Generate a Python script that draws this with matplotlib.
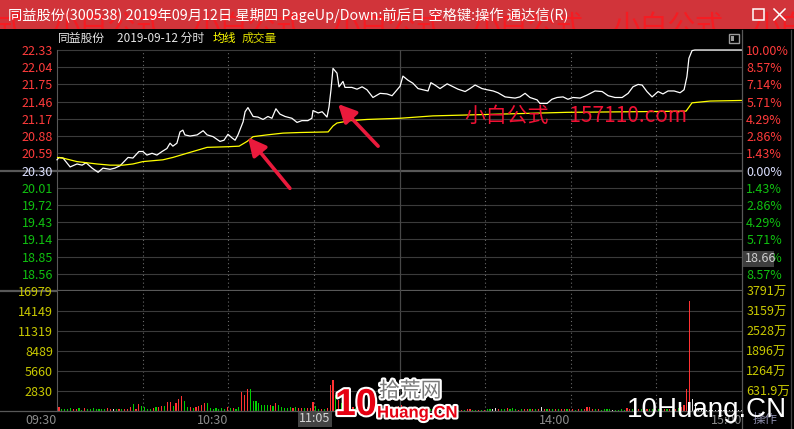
import matplotlib
matplotlib.use('Agg')
import matplotlib.pyplot as plt
from matplotlib.patches import Rectangle
import matplotlib.patheffects as pe
import numpy as np

plt.rcParams['font.family'] = ['Noto Sans CJK SC', 'DejaVu Sans']

# ---------------- data ----------------
title_text = "同益股份(300538) 2019年09月12日 星期四 PageUp/Down:前后日 空格键:操作 通达信(R)"
title_watermark = "小白公式"
title_watermark_x = [-87, 52, 192, 332, 472, 612, 752]
stock_name = "同益股份"
header_date = "2019-09-12 分时"
legend_avg = "均线"
legend_vol = "成交量"
watermark_text = "小白公式\u3000157110.com"
logo_big = "10"
logo_cn = "拾荒网"
logo_en = "Huang.CN"
site_text = "10Huang.CN"
op_text = "操作"

prev_close = 20.30
price_ticks = [22.33, 22.04, 21.75, 21.46, 21.17, 20.88, 20.59, 20.30,
               20.01, 19.72, 19.43, 19.14, 18.85, 18.56]
price_tick_labels = ["22.33", "22.04", "21.75", "21.46", "21.17", "20.88", "20.59", "20.30",
                     "20.01", "19.72", "19.43", "19.14", "18.85", "18.56"]
pct_tick_labels = ["10.00%", "8.57%", "7.14%", "5.71%", "4.29%", "2.86%", "1.43%", "0.00%",
                   "1.43%", "2.86%", "4.29%", "5.71%", "7.14%", "8.57%"]
vol_ticks = [2830, 5660, 8489, 11319, 14149, 16979]
vol_tick_labels = ["2830", "5660", "8489", "11319", "14149", "16979"]
amount_tick_labels = ["631.9万", "1264万", "1896万", "2528万", "3159万", "3791万"]
time_ticks = [0, 60, 180, 240]
time_labels = ["09:30", "10:30", "14:00", "15:00"]
cursor_time_label = "11:05"
cursor_price_label = "18.66"

# minute index (0 = 09:30, 120 = 11:30/13:00, 240 = 15:00) and price
price_min = [0, 0.7, 2.1, 4.6, 7.0, 8.8, 10.2, 12.3, 14.4, 16.1, 18.6, 20.3, 22.1, 24.9, 26.6,
             28.7, 30.1, 31.5, 33.3, 35.0, 36.8, 38.5, 39.6, 40.6, 42.0, 43.1, 44.1, 44.8, 46.6,
             49.1, 51.2, 52.6, 54.7, 57.1, 58.5, 59.9, 61.3, 62.4, 63.4, 65.2, 65.9, 66.9, 68.7,
             70.4, 72.2, 73.9, 75.3, 76.7, 78.1, 79.9, 82.3, 84.1, 85.8, 87.9, 89.3, 89.7, 91.5,
             92.9, 94.6, 95.3, 96.0, 96.7, 98.1, 98.8, 100.2, 100.9, 103.3, 105.1, 106.9, 108.6,
             110.7, 113.2, 115.6, 117.4, 120.2, 121.2, 123.0, 124.7, 126.5, 128.2, 130.0, 131.0,
             132.4, 134.2, 136.7, 138.8, 140.5, 143.0, 144.7, 146.5, 148.9, 150.7, 152.8, 154.5,
             157.0, 158.7, 160.5, 162.2, 164.0, 165.7, 168.2, 169.2, 171.7, 173.4, 175.2, 177.3,
             179.0, 180.8, 183.3, 185.7, 188.5, 191.0, 193.1, 195.5, 198.0, 200.1, 201.8, 203.6,
             205.0, 206.7, 208.5, 210.6, 212.3, 214.1, 216.2, 218.3, 219.7, 220.7, 221.4, 222.5,
             223.5, 240]
price_val = [20.48, 20.52, 20.51, 20.36, 20.41, 20.39, 20.43, 20.34, 20.27, 20.34, 20.32, 20.34,
             20.38, 20.52, 20.51, 20.62, 20.62, 20.56, 20.59, 20.56, 20.62, 20.67, 20.76, 20.71,
             20.76, 20.95, 20.98, 20.90, 20.88, 20.90, 20.97, 20.90, 20.87, 20.79, 20.81, 20.91,
             20.85, 20.81, 20.90, 21.12, 21.29, 21.36, 21.21, 21.20, 21.16, 21.21, 21.18, 21.34,
             21.25, 21.21, 21.18, 21.11, 21.14, 21.14, 21.18, 21.31, 21.27, 21.29, 21.20, 21.37,
             21.66, 22.02, 21.94, 21.71, 21.80, 21.70, 21.70, 21.67, 21.71, 21.66, 21.53, 21.60,
             21.59, 21.56, 21.72, 21.89, 21.82, 21.77, 21.68, 21.66, 21.64, 21.78, 21.74, 21.68,
             21.76, 21.71, 21.67, 21.63, 21.68, 21.74, 21.68, 21.66, 21.64, 21.61, 21.54, 21.53,
             21.52, 21.54, 21.60, 21.53, 21.49, 21.43, 21.43, 21.50, 21.53, 21.54, 21.50, 21.53,
             21.52, 21.57, 21.64, 21.63, 21.56, 21.53, 21.53, 21.60, 21.71, 21.75, 21.74, 21.63,
             21.54, 21.63, 21.59, 21.64, 21.64, 21.61, 21.66, 21.88, 22.19, 22.32, 22.33, 22.33]

avg_min = [0, 2, 7, 10.5, 14, 18.6, 23.1, 26.6, 30.1, 37.1, 40.6, 45.5, 52.6, 59.6, 63.8, 66.6,
           68.7, 73.6, 79.2, 85.1, 95.0, 96.7, 98.1, 102.7, 108.6, 120.2, 131.7, 155.2, 178.7,
           201.8, 220.4, 222.5, 228.8, 240]
avg_val = [20.52, 20.51, 20.45, 20.43, 20.41, 20.39, 20.39, 20.41, 20.45, 20.48, 20.52, 20.59,
           20.69, 20.70, 20.71, 20.79, 20.87, 20.90, 20.93, 20.94, 20.95, 21.05, 21.10, 21.14,
           21.16, 21.18, 21.22, 21.25, 21.28, 21.29, 21.30, 21.44, 21.47, 21.48]

# per-minute volume (lots) and direction (r = up, g = down, w = unchanged)
volume = [610, 330, 280, 280, 380, 280, 280, 380, 140, 380,
          280, 280, 380, 280, 280, 280, 280, 380, 280, 280,
          280, 280, 240, 280, 280, 520, 940, 280, 940, 710,
          570, 280, 240, 420, 520, 610, 710, 710, 1230, 1230,
          710, 1090, 1700, 2120, 1370, 570, 520, 420, 570, 750,
          900, 1080, 1080, 420, 330, 380, 330, 380, 330, 570,
          380, 420, 330, 520, 2640, 2260, 3110, 3110, 1370, 1370,
          1130, 850, 800, 800, 800, 660, 1130, 800, 570, 420,
          420, 610, 420, 610, 420, 420, 420, 420, 420, 1230,
          660, 330, 280, 330, 420, 3630, 4380, 2260,
          1500, 1200, 900, 800, 600, 500, 450, 400, 450, 600, 500,
          700, 600, 450, 400, 380, 350, 420, 380, 350, 500, 700,
          900, 600, 450, 400, 420, 350, 300, 380, 300, 350, 330, 300, 280, 300, 280, 300, 250, 250,
          140, 140, 140, 140, 190, 280, 240, 190, 140,
          140, 190, 140, 330, 240, 240, 420, 240, 240, 280,
          380, 280, 420, 280, 140, 240, 240, 240, 280,
          240, 280, 240, 520, 240, 240, 280, 240, 330, 240,
          240, 280, 240, 240, 240, 190, 240, 240, 330,
          570, 520, 330, 240, 240, 190, 240, 240, 240, 140,
          190, 190, 240, 190, 380,
          300, 350, 280, 300, 250, 300, 350, 300, 250, 300,
          280, 250, 300, 280, 250, 300, 350, 400, 500, 900,
          3110, 15570, 1650, 1200, 300, 250, 200, 200, 150, 150,
          150, 120, 120, 100, 100, 100, 100, 100, 100, 150]
volume_dir = ("rggggrrggr" "gggggggrrw" "grgrrrgrrg" "gggrgrrgrr" "grrrggrgrr"
              "rrgggggggr" "grggrrrggg" "ggggrgrggg" "ggrgrrgrrr" "ggrgrrrg"
              "rgrggrgrggrgrggrgrgrrr"
              "rggggrgrgrggrggrgg"
              "gggrgrrgg" "rgrggwwrgg" "rgggrgrrg" "rgrwrgrgrg" "rrgrrgrgr" "rrrgrggggw" "ggggr"
              "rggrggrggrggrgrgrgrr"
              "rrwwwwwwwwwwwwwwwwww")

# arrows (minute, price): head then tail
arrow_heads = [(66.9, 20.86), (98.5, 21.42)]
arrow_tails = [(81.6, 20.00), (112.5, 20.71)]

# ---------------- figure ----------------
W, H = 794, 429
fig = plt.figure(figsize=(W / 100, H / 100), dpi=100)
fig.patch.set_facecolor('black')

L, R = 57, 742
TOP, MID, BOT = 50, 291, 411
BAR_H = 29

ax = fig.add_axes([L / W, 1 - MID / H, (R - L) / W, (MID - TOP) / H])
axv = fig.add_axes([L / W, 1 - BOT / H, (R - L) / W, (BOT - MID) / H])

grid_c = '#3b3b3b'
sep_c = '#585858'
up_c, dn_c, flat_c = '#ff3b3b', '#10c010', '#dce0ff'
vol_lab_c = '#c8c800'

for a in (ax, axv):
    a.set_facecolor('black')
    a.set_xlim(0, 240)
    for s in ('top', 'right', 'bottom'):
        a.spines[s].set_visible(False)
    a.spines['left'].set_color(sep_c)
    a.spines['left'].set_linewidth(0.8)

ybot = 2 * prev_close - price_ticks[0]
ax.set_ylim(ybot, price_ticks[0])

# horizontal grid
for v in price_ticks:
    if v != prev_close:
        ax.axhline(v, color=grid_c, lw=0.8, zorder=1, clip_on=False)
ax.axhline(prev_close, xmin=-L / (R - L), xmax=1, color=sep_c, lw=1.6, zorder=1, clip_on=False)
ax.axhline(ybot, xmin=-L / (R - L), xmax=1, color=sep_c, lw=1.6, zorder=0.5, clip_on=False)

# vertical grid
for t in (30, 60, 90, 150, 180, 210):
    for a in (ax, axv):
        a.axvline(t, color='#6a6a6a', lw=0.8, ls=(0, (1, 2.5)), zorder=1)
for a in (ax, axv):
    a.axvline(120, color='#474747', lw=0.9, zorder=1)

# price & average lines
ax.plot(price_min, price_val, color='white', lw=0.9, zorder=3, clip_on=False)
ax.plot(avg_min, avg_val, color='#ffff00', lw=0.9, zorder=3)

# left price labels
ax.set_yticks(price_ticks)
ax.set_yticklabels(price_tick_labels)
ax.tick_params(axis='y', length=0, pad=3, labelsize=9)
ax.tick_params(axis='x', bottom=False, labelbottom=False)
for lbl, v in zip(ax.get_yticklabels(), price_ticks):
    lbl.set_color(up_c if v > prev_close else (dn_c if v < prev_close else flat_c))

axr = ax.twinx()
axr.set_ylim(ax.get_ylim())
axr.set_yticks(price_ticks)
axr.set_yticklabels(pct_tick_labels)
axr.tick_params(axis='y', length=0, pad=3, labelsize=9)
for s in axr.spines.values():
    s.set_visible(False)
for lbl, v in zip(axr.get_yticklabels(), price_ticks):
    lbl.set_color(up_c if v > prev_close else (dn_c if v < prev_close else flat_c))

# arrows
for head, tail in zip(arrow_heads, arrow_tails):
    ax.annotate('', xy=head, xytext=tail, annotation_clip=False, zorder=6,
                arrowprops=dict(arrowstyle='-|>,head_length=0.9,head_width=0.45',
                                color='#ea1a3c', lw=2.6, mutation_scale=12,
                                shrinkA=0, shrinkB=0))

# volume
dir_col = {'r': '#ff3232', 'g': '#00d000', 'w': '#e6e6e6'}
bar_x = np.arange(len(volume)) + 0.7
axv.bar(bar_x, volume, width=0.4, color=[dir_col[c] for c in volume_dir], linewidth=0, zorder=3)
axv.set_ylim(0, vol_ticks[-1])
for v in vol_ticks[:-1]:
    axv.axhline(v, color=grid_c, lw=0.8, zorder=1)
axv.set_yticks(vol_ticks)
axv.set_yticklabels(vol_tick_labels)
axv.tick_params(axis='y', length=0, pad=3, labelsize=9, labelcolor=vol_lab_c)
axv.set_xticks(time_ticks)
axv.set_xticklabels(time_labels)
axv.tick_params(axis='x', length=0, pad=2.5, labelsize=9, labelcolor='#8c8c8c')
for lbl in axv.get_xticklabels():
    lbl.set_ha('right')

axvr = axv.twinx()
axvr.set_ylim(axv.get_ylim())
axvr.set_yticks(vol_ticks)
axvr.set_yticklabels(amount_tick_labels)
axvr.tick_params(axis='y', length=0, pad=3, labelsize=9, labelcolor=vol_lab_c)
for s in axvr.spines.values():
    s.set_visible(False)

# ---------------- title bar (own axes, clipped) ----------------
axt = fig.add_axes([0, 1 - BAR_H / H, 1, BAR_H / H])
axt.set_xlim(0, W)
axt.set_ylim(BAR_H, 0)
axt.set_facecolor('#d1343a')
axt.set_xticks([])
axt.set_yticks([])
for s in axt.spines.values():
    s.set_visible(False)
for wx in title_watermark_x:
    axt.text(wx, 12, title_watermark, fontsize=20, color='#f51c22', va='top', ha='left',
             zorder=1, clip_on=True)
axt.text(8, 15, title_text, fontsize=10.3, color='white', va='center', ha='left', zorder=2)
axt.add_patch(Rectangle((753, 9), 11, 11, facecolor='none', edgecolor='white', lw=1.1, zorder=2))
axt.plot([774, 785], [9, 20], color='white', lw=1.1, zorder=2)
axt.plot([774, 785], [20, 9], color='white', lw=1.1, zorder=2)

# ---------------- overlay decorations (pixel coords) ----------------
axo = fig.add_axes([0, 0, 1, 1])
axo.set_xlim(0, W)
axo.set_ylim(H, 0)
axo.axis('off')

# header
axo.text(58, 38, stock_name, fontsize=8.5, color='#e6e6e6', va='center', ha='left')
axo.text(117, 38, header_date, fontsize=8.5, color='#e6e6e6', va='center', ha='left')
axo.text(213, 38, legend_avg, fontsize=8.5, color='#ffff00', va='center', ha='left')
axo.text(242, 38, legend_vol, fontsize=8.5, color='#d8d800', va='center', ha='left')
axo.add_patch(Rectangle((729, 34), 10, 9, facecolor='none', edgecolor='#9a9a9a', lw=1))
axo.add_patch(Rectangle((731, 36), 3, 5, facecolor='#9a9a9a', edgecolor='none'))

# frame lines
axo.plot([R, R], [BAR_H + 1, H], color=sep_c, lw=0.9)
axo.plot([791, 791], [BAR_H + 1, H], color='#444444', lw=0.9)
axo.plot([0, R], [BOT, BOT], color=sep_c, lw=0.9)

# watermark
axo.text(465, 116, watermark_text, fontsize=15, color='#ee1133', va='center', ha='left', zorder=5)

# cursor boxes
axo.add_patch(Rectangle((743, 251), 31, 16, facecolor='#3e3e3e', edgecolor='none', zorder=6))
axo.text(745, 259, cursor_price_label, fontsize=9, color='#cfcfcf', va='center', ha='left', zorder=7)
axo.add_patch(Rectangle((298, 412), 34, 15, facecolor='#444444', edgecolor='none', zorder=6))
axo.text(330, 419, cursor_time_label, fontsize=9, color='#d6d6d6', va='center', ha='right', zorder=7)

# bottom right "操作"
axo.text(753, 419, op_text, fontsize=9, color='#8a8aa8', va='center', ha='left', zorder=6)

# logo
stroke = [pe.withStroke(linewidth=3, foreground='white')]
axo.text(335, 405, logo_big, fontsize=27, fontweight='bold', color='#e60012',
         family='Liberation Sans', va='center', ha='left', zorder=8, path_effects=stroke)
axo.text(379, 391, logo_cn, fontsize=15, color='#7a7a7a', va='center', ha='left', zorder=8,
         path_effects=stroke)
axo.text(377, 413, logo_en, fontsize=12, fontweight='bold', color='#e60012',
         family='Liberation Sans', va='center', ha='left', zorder=8, path_effects=stroke)

# site text
axo.text(627, 417, site_text, fontsize=20, color='white', family='Liberation Sans',
         va='baseline', ha='left', zorder=9)

fig.savefig('out.png', dpi=100, facecolor='black')
